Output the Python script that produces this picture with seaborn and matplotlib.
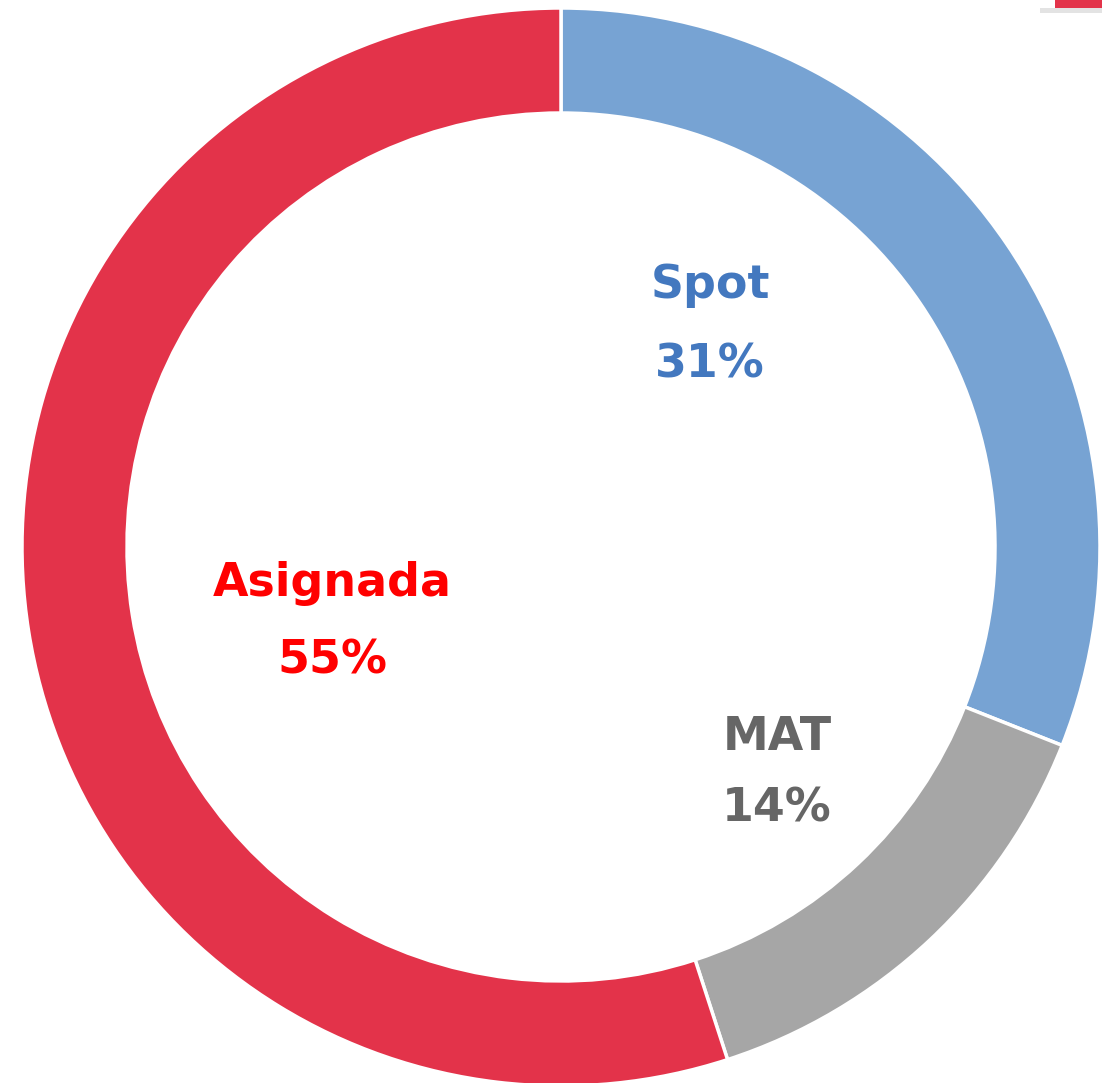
import matplotlib
matplotlib.use("Agg")
import matplotlib.pyplot as plt
from matplotlib.patches import Rectangle
import seaborn as sns

categories = ["Spot", "MAT", "Asignada"]
values = [31, 14, 55]
pct_labels = ["31%", "14%", "55%"]

sns.set_theme(style="white")
plt.rcParams['font.family'] = ['DejaVu Sans']

ring_colors = sns.color_palette(["#77A3D3", "#A6A6A6", "#E3334A"])
text_colors = ["#4378BF", "#666666", "#FF0000"]

W, H = 1112, 1083
fig = plt.figure(figsize=(W / 100, H / 100), dpi=100)
fig.patch.set_facecolor("white")
ax = fig.add_axes([0, 0, 1, 1])

R = 539.0
cx, cy = 561.0, 547.0

ax.pie(values, colors=ring_colors, startangle=90, counterclock=False,
       radius=1.0, frame=True,
       wedgeprops=dict(width=105 / R, edgecolor="white", linewidth=2.5))
ax.set_xlim(-cx / R, (W - cx) / R)
ax.set_ylim(-(H - cy) / R, cy / R)
ax.set_aspect("auto")
ax.axis("off")

# label positions in pixel coords (center x, baseline y of line1, baseline y of line2)
label_px = [(710, 298, 378), (777, 750, 822), (332, 596, 674)]
for cat, pct, col, (px, b1, b2) in zip(categories, pct_labels, text_colors, label_px):
    ax.text((px - cx) / R, (cy - b1) / R, cat, color=col, fontsize=33,
            fontweight="bold", ha="center", va="baseline")
    ax.text((px - cx) / R, (cy - b2) / R, pct, color=col, fontsize=33,
            fontweight="bold", ha="center", va="baseline")

# small red tab in top-right corner
fig.patches.append(Rectangle((1055 / W, 1 - 8 / H), 47 / W, 8 / H, transform=fig.transFigure,
                             facecolor="#E3334A", edgecolor="none"))
fig.patches.append(Rectangle((1040 / W, 1 - 13 / H), 62 / W, 5 / H, transform=fig.transFigure,
                             facecolor="#C8C8C8", edgecolor="none", alpha=0.5))

fig.savefig("out.png", dpi=100, facecolor="white")
